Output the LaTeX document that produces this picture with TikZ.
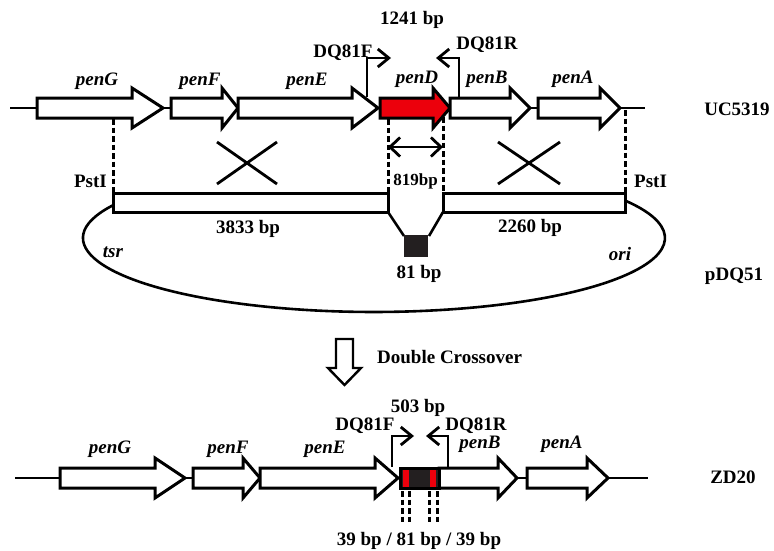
\documentclass[tikz,border=0pt]{standalone}
\usepackage{fontspec}
\setmainfont{Liberation Serif}
\usetikzlibrary{arrows.meta}
\definecolor{gred}{RGB}{236,0,12}
\definecolor{ins}{RGB}{35,31,32}
\newcommand{\genearrow}[5][fill=white]{%
  \draw[gene,#1] (#2,#5-10) -- (#3,#5-10) -- (#3,#5-20) -- (#4,#5) -- (#3,#5+20) -- (#3,#5+10) -- (#2,#5+10) -- cycle;}
\begin{document}
\begin{tikzpicture}[x=1pt,y=-1pt,
  lbl/.style={font=\fontsize{19}{22}\selectfont\bfseries, anchor=base, inner sep=0pt},
  gl/.style={font=\fontsize{19}{22}\selectfont\bfseries\itshape, anchor=base, inner sep=0pt},
  gene/.style={draw, line width=3pt, line join=miter},
  dna/.style={line width=2.8pt},
  cut/.style={line width=3pt, dash pattern=on 5.5pt off 3pt},
  primer/.style={line width=2.8pt, -{Straight Barb[length=11pt,width=18pt]}},
]
\useasboundingbox (0,0) rectangle (774,551);

% ---------------- UC5319 ----------------
\draw[dna] (10,108) -- (645,108);
\genearrow{37}{132}{163}{108}
\genearrow{171}{222}{238}{108}
\genearrow{238}{352}{378}{108}
\genearrow[fill=gred]{380}{433}{450}{108}
\genearrow{450}{510}{530}{108}
\genearrow{538}{600}{620}{108}

\node[gl] (gG1) at (97,85) {penG};
\node[gl] (gF1) at (200,85) {penF};
\node[gl] (gE1) at (307,85) {penE};
\node[gl] (gD1) at (417,84) {penD};
\node[gl] (gB1) at (487,84) {penB};
\node[gl] (gA1) at (573,84) {penA};

\coordinate (pf1a) at (367,97);  \coordinate (pf1b) at (367,58);  \coordinate (pf1c) at (391,58);
\coordinate (pr1a) at (459,97);  \coordinate (pr1b) at (459,58);  \coordinate (pr1c) at (436,58);
\draw[primer] (pf1a) -- (pf1b) -- (pf1c);
\draw[primer] (pr1a) -- (pr1b) -- (pr1c);
\node[lbl] (f1) at (343,58) {DQ81F};
\node[lbl] (r1) at (487,50) {DQ81R};
\node[lbl] (b1241) at (412,25) {1241 bp};
\node[lbl] (uc) at (737,115) {UC5319};

% dashed homology lines
\draw[cut] (113,119) -- (113,193);
\draw[cut] (388,119) -- (388,193);
\draw[cut] (443,117) -- (443,193);
\draw[cut] (625,110) -- (625,193);
\coordinate (d1) at (388,147); \coordinate (d2) at (443,147);
\draw[line width=2.8pt, {Straight Barb[length=10pt,width=19pt]}-{Straight Barb[length=10pt,width=19pt]}] (d1) -- (d2);
\node[lbl, font=\fontsize{17}{20}\selectfont\bfseries] (bp819) at (415.5,185) {819bp};
\node[lbl, anchor=base east] (pst1) at (107,187) {PstI};
\node[lbl, anchor=base west] (pst2) at (634,187) {PstI};

% crossovers
\draw[line width=2.8pt] (217,142) -- (277,184) (217,184) -- (277,142);
\draw[line width=2.8pt] (498,142) -- (560,184) (498,184) -- (560,142);

% ---------------- pDQ51 ----------------
\coordinate (ellL) at (112.9,205.3);
\draw[line width=2.6pt] (ellL) arc[start angle=153.8, end angle=390.4, x radius=291pt, y radius=74pt];
\draw[line width=3pt, fill=white] (113,193) rectangle (388,212);
\draw[line width=3pt, fill=white] (443,193) rectangle (625,212);
\draw[line width=2.6pt] (388,212) -- (404,236);
\draw[line width=2.6pt] (443,212) -- (429,236);
\fill[ins] (404,235) rectangle (428,257);
\node[lbl] (b3833) at (248,233) {3833 bp};
\node[lbl] (b2260) at (530,232) {2260 bp};
\node[lbl] (b81) at (419,278) {81 bp};
\node[gl] (tsr) at (113,257) {tsr};
\node[gl] (ori) at (620,260) {ori};
\node[lbl] (pdq) at (734,280) {pDQ51};

% ---------------- double crossover arrow ----------------
\draw[line width=2.4pt, fill=white, line join=miter] (336,339) -- (353,339) -- (353,368) -- (361,368) -- (344.5,385) -- (328,368) -- (336,368) -- cycle;
\node[lbl, anchor=base west] (dc) at (377,363) {Double Crossover};

% ---------------- ZD20 ----------------
\draw[dna] (15,478) -- (648,478);
\genearrow{60}{155}{185}{478}
\genearrow{193}{243}{260}{478}
\genearrow{260}{375}{398}{478}
\genearrow{439}{498}{517}{478}
\genearrow{527}{587}{608}{478}
\draw[line width=3pt, fill=ins] (400,468) rectangle (439,488);
\fill[gred] (403,469.5) rectangle (409,486.5);
\fill[gred] (430,469.5) rectangle (436,486.5);

\node[gl] (gG2) at (110,453) {penG};
\node[gl] (gF2) at (228,453) {penF};
\node[gl] (gE2) at (325,453) {penE};
\node[gl] (gB2) at (480,448) {penB};
\node[gl] (gA2) at (562,448) {penA};

\coordinate (pf2a) at (392,467);  \coordinate (pf2b) at (392,436);  \coordinate (pf2c) at (414,436);
\coordinate (pr2a) at (448,467);  \coordinate (pr2b) at (448,436);  \coordinate (pr2c) at (426,436);
\draw[primer] (pf2a) -- (pf2b) -- (pf2c);
\draw[primer] (pr2a) -- (pr2b) -- (pr2c);
\node[lbl] (f2) at (365,430) {DQ81F};
\node[lbl] (r2) at (476,430) {DQ81R};
\node[lbl] (b503) at (418,412) {503 bp};
\node[lbl] (zd) at (733,483) {ZD20};

\draw[cut] (402,491) -- (402,522);
\draw[cut] (409,491) -- (409,522);
\draw[cut] (429,491) -- (429,522);
\draw[cut] (437,491) -- (437,522);
\node[lbl] (b39) at (419,545) {39 bp / 81 bp / 39 bp};
\end{tikzpicture}
\end{document}
